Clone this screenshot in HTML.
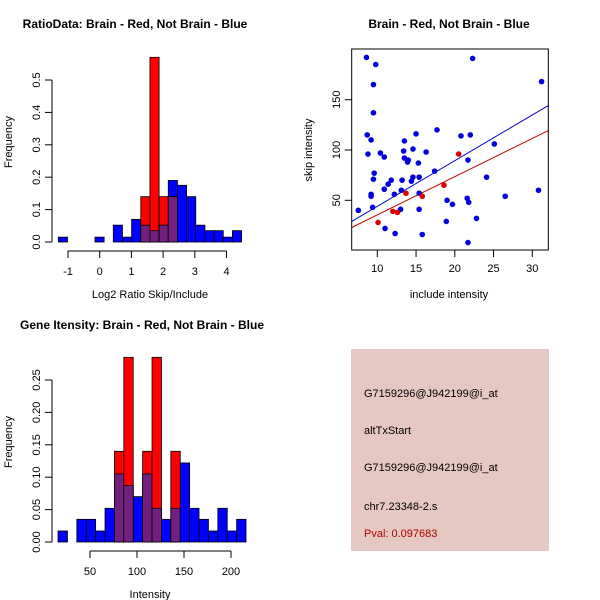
<!DOCTYPE html>
<html><head><meta charset="utf-8"><style>
html,body{margin:0;padding:0;background:#fff}
svg{display:block;font-family:"Liberation Sans",sans-serif}
</style></head><body>
<svg id="s" width="600" height="600" viewBox="0 0 600 600">
<rect width="600" height="600" fill="#fff"/>
<g id="p1"></g>
<g id="p2"></g>
<g id="p3"></g>
<g>
<rect x="351" y="349" width="198" height="202" fill="#e6c8c2"/>
<g font-size="11" fill="#000">
<text x="364" y="397">G7159296@J942199@i_at</text>
<text x="364" y="434">altTxStart</text>
<text x="364" y="471">G7159296@J942199@i_at</text>
<text x="364" y="510">chr7.23348-2.s</text>
<text x="364" y="537" fill="#b00000">Pval: 0.097683</text>
</g></g>
</svg>
<script>
// ---- Plot 1 data
const ratioBinStart = -1.305;
const ratioBinWidth = 0.289;
const ratioBlue = [0.015,0,0,0,0.015,0,0.052,0.015,0.07,0.052,0.035,0.052,0.19,0.175,0.14,0.052,0.035,0.035,0.015,0.035];
const ratioRed  = [0,0,0,0,0,0,0,0,0,0.14,0.57,0.14,0.14,0,0,0,0,0,0,0];
const ratioXTicks = [-1,0,1,2,3,4];
const ratioYTicks = [0,0.1,0.2,0.3,0.4,0.5];
// ---- Plot 3 data
const intBinStart = 16;
const intBinWidth = 10;
const intBlue = [0.017,0,0.035,0.035,0.017,0.052,0.105,0.087,0.07,0.105,0.052,0.035,0.052,0.122,0.052,0.035,0.017,0.052,0.017,0.035];
const intRed  = [0,0,0,0,0,0,0.14,0.285,0,0.14,0.285,0,0.14,0,0,0,0,0,0,0];
const intXTicks = [50,100,150,200];
const intYTicks = [0,0.05,0.1,0.15,0.2,0.25];
// ---- Plot 2 data
const blueX = [7.55,8.6,9.8,9.5,9.5,8.7,9.2,8.8,10.4,10.9,9.6,9.5,9.2,9.2,9.4,10.9,11.0,11.4,11.8,12.2,12.3,13.0,13.1,13.2,13.4,13.5,13.5,13.9,14.0,14.4,14.6,14.6,15.0,15.3,15.4,15.4,15.4,15.8,16.3,17.4,17.7,19.0,19.7,18.9,20.8,22.0,21.7,21.6,21.8,22.8,21.7,22.3,24.1,25.1,26.5,30.8,31.2];
const blueY = [40,192,185,165,137,115,110,96,97,93,77,71,56,54,43,61,22,66,70,56,17,41,60,70,99,109,92,88,90,69,73,101,116,87,73,57,41,16,98,79,120,50,46,29,114,115,90,52,48,32,8,191,73,106,54,60,168];
const redX = [10.1,12.0,12.6,13.7,15.8,18.6,20.5];
const redY = [28,39,38,57,54,65,96];
const blueFit = [-1.4,4.54];
const redFit = [-2.5,3.8];
const scatXTicks = [10,15,20,25,30];
const scatYTicks = [50,100,150];

const NS="http://www.w3.org/2000/svg";
function mk(parent,tag,attrs,text){const e=document.createElementNS(NS,tag);for(const k in attrs)e.setAttribute(k,attrs[k]);if(text!==undefined)e.textContent=text;parent.appendChild(e);return e;}
const PURPLE="#731f80";

function histogram(g,o){
  const sx=v=>o.x0+(v-o.xa)*o.kx, sy=v=>o.y0-v*o.ky;
  const t=mk(g,'text',{x:o.tx,y:o.ty,'font-size':12,'font-weight':'bold','text-anchor':'middle'},o.title);
  
  
  o.blue.forEach((v,i)=>{
    const a=o.start+i*o.w,b=a+o.w;
    const r=o.red[i];
    const top=Math.max(v,r);
    if(top<=0)return;
    if(v>0){const e=mk(g,'rect',{x:sx(a),y:sy(v),width:sx(b)-sx(a),height:sy(0)-sy(v),fill:'#0000ff',stroke:'#000','stroke-width':0.8});
      
      }
    if(r>0){const e=mk(g,'rect',{x:sx(a),y:sy(r),width:sx(b)-sx(a),height:sy(0)-sy(r),fill:'#ff0000',stroke:'#000','stroke-width':0.8});
      
      }
    if(r>0&&v>0){const m=Math.min(v,r);const e=mk(g,'rect',{x:sx(a),y:sy(m),width:sx(b)-sx(a),height:sy(0)-sy(m),fill:PURPLE,stroke:'#000','stroke-width':0.8});
      
      }
  });
  // y axis
  const yt=o.yticks;
  mk(g,'line',{x1:52,x2:52,y1:sy(yt[0]),y2:sy(yt[yt.length-1]),stroke:'#000'});
  yt.forEach(v=>{mk(g,'line',{x1:45,x2:52,y1:sy(v),y2:sy(v),stroke:'#000'});
    const e=mk(g,'text',{x:0,y:0,'font-size':11,'text-anchor':'middle',transform:`translate(40,${sy(v)}) rotate(-90)`},o.yfmt(v));
    
    });
  // x axis
  const xt=o.xticks, ay=o.y0+9;
  mk(g,'line',{x1:sx(xt[0]),x2:sx(xt[xt.length-1]),y1:ay,y2:ay,stroke:'#000'});
  xt.forEach(v=>{mk(g,'line',{x1:sx(v),x2:sx(v),y1:ay,y2:ay+7,stroke:'#000'});
    const e=mk(g,'text',{x:sx(v),y:ay+24,'font-size':11,'text-anchor':'middle'},String(v));
    
    });
  const xl=mk(g,'text',{x:150,y:o.y0+56,'font-size':11,'text-anchor':'middle'},o.xlabel);
  
  
  const yl=mk(g,'text',{x:0,y:0,'font-size':11,'text-anchor':'middle',transform:`translate(12,${o.y0-100}) rotate(-90)`},'Frequency');
  
  
}

histogram(document.getElementById('p1'),{x0:68,xa:-1,kx:31.7,y0:242,ky:324,start:ratioBinStart,w:ratioBinWidth,blue:ratioBlue,red:ratioRed,xticks:ratioXTicks,yticks:ratioYTicks,yfmt:v=>v.toFixed(1),title:'RatioData: Brain - Red, Not Brain - Blue',tx:135,ty:28,xlabel:'Log2 Ratio Skip/Include'});
histogram(document.getElementById('p3'),{x0:90,xa:50,kx:0.94,y0:542,ky:648,start:intBinStart,w:intBinWidth,blue:intBlue,red:intRed,xticks:intXTicks,yticks:intYTicks,yfmt:v=>v.toFixed(2),title:'Gene Itensity: Brain - Red, Not Brain - Blue',tx:142,ty:329,xlabel:'Intensity'});

// scatter
(function(){
  const g=document.getElementById('p2');
  const L=351.7,R=548.3,T=49,B=250;
  const sx=v=>377.3+(v-10)*7.75, sy=v=>200.3-(v-50)*1.006;
  const t=mk(g,'text',{x:449,y:28,'font-size':12,'font-weight':'bold','text-anchor':'middle'},'Brain - Red, Not Brain - Blue');
  
  
  mk(g,'defs',{}).innerHTML='<clipPath id="cp"><rect x="'+L+'" y="'+T+'" width="'+(R-L)+'" height="'+(B-T)+'"/></clipPath>';
  const xa=(L-377.3)/7.75+10, xb=(R-377.3)/7.75+10;
  [[blueFit,'#0000cc','blue-fit-line'],[redFit,'#cc0000','red-fit-line']].forEach(([f,c,n])=>{
    const e=mk(g,'line',{x1:sx(xa),y1:sy(f[0]+f[1]*xa),x2:sx(xb),y2:sy(f[0]+f[1]*xb),stroke:c,'stroke-width':1,'clip-path':'url(#cp)'});
    
    
  });
  blueX.forEach((x,i)=>{const e=mk(g,'circle',{cx:sx(x),cy:sy(blueY[i]),r:2.8,fill:'#0000dd'});
    
    });
  redX.forEach((x,i)=>{const e=mk(g,'circle',{cx:sx(x),cy:sy(redY[i]),r:2.8,fill:'#dd0000'});
    
    });
  mk(g,'rect',{x:L,y:T,width:R-L,height:B-T,fill:'none',stroke:'#000'});
  scatXTicks.forEach(v=>{mk(g,'line',{x1:sx(v),x2:sx(v),y1:B,y2:B+7,stroke:'#000'});
    const e=mk(g,'text',{x:sx(v),y:B+22,'font-size':11,'text-anchor':'middle'},String(v));
    
    });
  scatYTicks.forEach(v=>{mk(g,'line',{x1:L-7,x2:L,y1:sy(v),y2:sy(v),stroke:'#000'});
    const e=mk(g,'text',{x:0,y:0,'font-size':11,'text-anchor':'middle',transform:`translate(340,${sy(v)}) rotate(-90)`},String(v));
    
    });
  const xl=mk(g,'text',{x:449,y:298,'font-size':11,'text-anchor':'middle'},'include intensity');
  
  
  const yl=mk(g,'text',{x:0,y:0,'font-size':11,'text-anchor':'middle',transform:'translate(312,150) rotate(-90)'},'skip intensity');
  
  
})();
</script>
</body></html>
